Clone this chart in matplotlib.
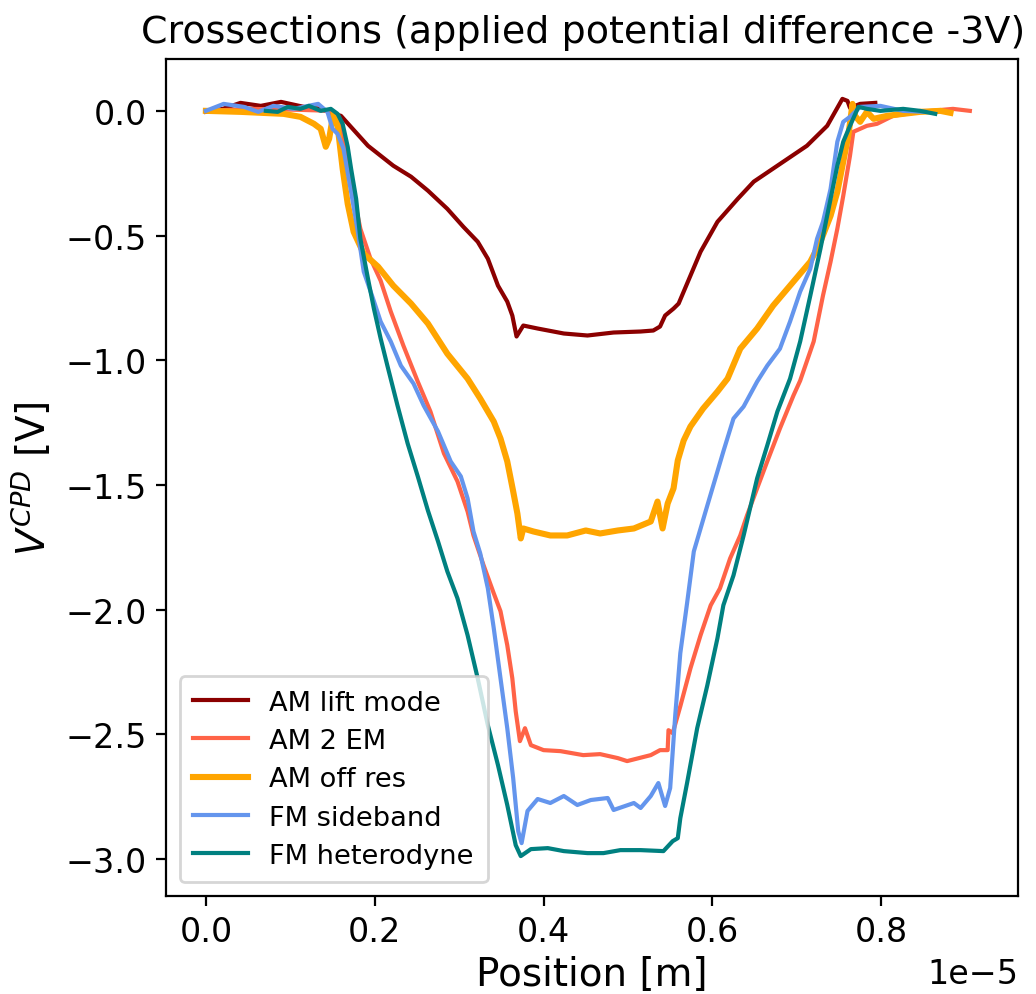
import numpy as np
import matplotlib
matplotlib.use('Agg')
import matplotlib.pyplot as plt

# positions in units of 1e-5 m, potentials in V
x_lift = [0.0, 0.020, 0.041, 0.065, 0.089, 0.116, 0.136, 0.151, 0.160, 0.192, 0.222, 0.243,
          0.263, 0.286, 0.305, 0.322, 0.334, 0.346, 0.357, 0.363, 0.368, 0.376, 0.393, 0.424,
          0.452, 0.483, 0.515, 0.530, 0.538, 0.544, 0.554, 0.560, 0.574, 0.586, 0.606, 0.630,
          0.649, 0.677, 0.712, 0.736, 0.754, 0.760, 0.763, 0.775, 0.793]
v_lift = [-0.004, 0.008, 0.032, 0.020, 0.036, 0.016, 0.008, -0.012, -0.020, -0.140, -0.220, -0.264,
          -0.320, -0.393, -0.465, -0.525, -0.593, -0.701, -0.765, -0.821, -0.905, -0.861, -0.873, -0.893,
          -0.901, -0.889, -0.885, -0.881, -0.865, -0.821, -0.793, -0.773, -0.661, -0.565, -0.445, -0.353,
          -0.284, -0.220, -0.140, -0.060, 0.048, 0.040, 0.012, 0.028, 0.032]

x_2em = [0.0, 0.053, 0.112, 0.148, 0.160, 0.175, 0.183, 0.195, 0.207, 0.219, 0.234, 0.251,
         0.266, 0.282, 0.298, 0.310, 0.317, 0.329, 0.341, 0.349, 0.357, 0.363, 0.367, 0.372,
         0.378, 0.385, 0.400, 0.420, 0.447, 0.467, 0.488, 0.499, 0.527, 0.538, 0.547, 0.548,
         0.553, 0.562, 0.574, 0.586, 0.598, 0.609, 0.621, 0.633, 0.641, 0.653, 0.665, 0.680,
         0.696, 0.704, 0.720, 0.731, 0.740, 0.748, 0.755, 0.763, 0.767, 0.775, 0.783, 0.795,
         0.814, 0.846, 0.885, 0.905]
v_2em = [0.0, 0.008, 0.004, 0.0, -0.052, -0.341, -0.473, -0.593, -0.681, -0.805, -0.942, -1.086,
         -1.206, -1.374, -1.486, -1.607, -1.703, -1.823, -1.935, -2.007, -2.143, -2.276, -2.408, -2.528,
         -2.476, -2.544, -2.564, -2.568, -2.584, -2.580, -2.596, -2.608, -2.584, -2.564, -2.564, -2.484,
         -2.496, -2.388, -2.236, -2.103, -1.983, -1.915, -1.795, -1.703, -1.623, -1.514, -1.406, -1.274,
         -1.142, -1.082, -0.925, -0.741, -0.605, -0.473, -0.341, -0.180, -0.084, -0.072, -0.060, -0.052,
         -0.020, -0.004, 0.008, 0.0]

x_off = [0.0, 0.041, 0.092, 0.112, 0.128, 0.136, 0.142, 0.146, 0.151, 0.156, 0.162, 0.168,
         0.175, 0.187, 0.204, 0.222, 0.243, 0.263, 0.286, 0.310, 0.325, 0.341, 0.349, 0.357,
         0.364, 0.369, 0.373, 0.376, 0.388, 0.408, 0.428, 0.450, 0.467, 0.488, 0.507, 0.527,
         0.535, 0.541, 0.547, 0.554, 0.559, 0.566, 0.574, 0.589, 0.606, 0.618, 0.633, 0.653,
         0.672, 0.696, 0.716, 0.728, 0.740, 0.748, 0.755, 0.761, 0.766, 0.769, 0.775, 0.783,
         0.791, 0.807, 0.826, 0.846, 0.870, 0.882]
v_off = [0.0, -0.004, -0.012, -0.024, -0.052, -0.072, -0.144, -0.112, -0.012, -0.060, -0.232, -0.373,
         -0.485, -0.573, -0.625, -0.701, -0.773, -0.853, -0.974, -1.074, -1.154, -1.246, -1.314, -1.406,
         -1.526, -1.615, -1.715, -1.675, -1.687, -1.703, -1.703, -1.683, -1.695, -1.683, -1.675, -1.647,
         -1.567, -1.675, -1.575, -1.514, -1.402, -1.322, -1.266, -1.194, -1.126, -1.074, -0.954, -0.873,
         -0.781, -0.685, -0.605, -0.525, -0.421, -0.325, -0.204, -0.100, 0.028, -0.020, -0.044, -0.004,
         -0.032, -0.020, -0.012, -0.004, 0.0, -0.008]

x_side = [0.0, 0.021, 0.045, 0.062, 0.080, 0.104, 0.133, 0.144, 0.150, 0.156, 0.163, 0.172,
          0.180, 0.187, 0.198, 0.207, 0.219, 0.231, 0.246, 0.258, 0.275, 0.290, 0.302, 0.310,
          0.317, 0.325, 0.334, 0.341, 0.349, 0.357, 0.364, 0.370, 0.374, 0.381, 0.393, 0.408,
          0.424, 0.440, 0.456, 0.476, 0.483, 0.507, 0.515, 0.527, 0.536, 0.544, 0.550, 0.556,
          0.562, 0.570, 0.578, 0.586, 0.594, 0.606, 0.613, 0.625, 0.637, 0.653, 0.665, 0.680,
          0.692, 0.704, 0.716, 0.724, 0.731, 0.740, 0.748, 0.755, 0.763, 0.775, 0.799, 0.826,
          0.852]
v_side = [0.0, 0.028, 0.016, -0.004, 0.020, 0.008, 0.028, -0.004, -0.072, -0.092, -0.152, -0.325,
          -0.485, -0.645, -0.753, -0.845, -0.925, -1.022, -1.094, -1.182, -1.286, -1.406, -1.466, -1.554,
          -1.687, -1.775, -1.915, -2.075, -2.276, -2.476, -2.676, -2.889, -2.937, -2.808, -2.760, -2.776,
          -2.748, -2.784, -2.764, -2.756, -2.804, -2.776, -2.796, -2.748, -2.696, -2.788, -2.716, -2.424,
          -2.175, -1.975, -1.767, -1.675, -1.583, -1.446, -1.366, -1.234, -1.186, -1.086, -1.022, -0.954,
          -0.845, -0.725, -0.633, -0.513, -0.445, -0.313, -0.124, -0.044, -0.024, 0.016, 0.020, 0.0,
          -0.004]

x_het = [0.071, 0.085, 0.097, 0.112, 0.122, 0.136, 0.148, 0.156, 0.162, 0.168, 0.172, 0.178,
         0.183, 0.192, 0.199, 0.207, 0.215, 0.227, 0.239, 0.251, 0.263, 0.275, 0.286, 0.298,
         0.310, 0.322, 0.334, 0.346, 0.357, 0.367, 0.373, 0.385, 0.405, 0.424, 0.452, 0.471,
         0.491, 0.515, 0.542, 0.553, 0.559, 0.562, 0.570, 0.582, 0.594, 0.606, 0.613, 0.625,
         0.637, 0.653, 0.665, 0.677, 0.692, 0.704, 0.716, 0.728, 0.740, 0.748, 0.755, 0.763,
         0.773, 0.783, 0.799, 0.826, 0.846, 0.864]
v_het = [0.0, -0.004, 0.016, 0.008, 0.020, 0.0, 0.008, -0.012, -0.052, -0.144, -0.232, -0.353,
         -0.513, -0.673, -0.793, -0.913, -1.022, -1.182, -1.334, -1.466, -1.603, -1.727, -1.847, -1.955,
         -2.103, -2.276, -2.464, -2.624, -2.784, -2.945, -2.989, -2.961, -2.957, -2.969, -2.977, -2.977,
         -2.965, -2.965, -2.969, -2.929, -2.917, -2.837, -2.696, -2.476, -2.304, -2.115, -1.983, -1.863,
         -1.703, -1.474, -1.342, -1.206, -1.074, -0.925, -0.741, -0.553, -0.353, -0.220, -0.124, -0.060,
         0.016, 0.008, 0.0, 0.008, 0.0, -0.012]

x_ticks = [0.0, 0.2, 0.4, 0.6, 0.8]

series = [
    (x_lift, v_lift, 'AM lift mode', 'darkred', 1.5),
    (x_2em, v_2em, 'AM 2 EM', 'tomato', 1.5),
    (x_off, v_off, 'AM off res', 'orange', 2.2),
    (x_side, v_side, 'FM sideband', 'cornflowerblue', 1.5),
    (x_het, v_het, 'FM heterodyne', 'teal', 1.5),
]

fig = plt.figure(figsize=(5.18, 4.975), dpi=200)
ax = fig.add_axes([0.1602, 0.0985, 0.8224, 0.8412])

for xs, vs, label, color, lw in series:
    ax.plot(np.array(xs) * 1e-5, vs, color=color, lw=lw, label=label)

ax.set_xlim(-0.0473e-5, 0.962e-5)
ax.set_ylim(-3.149, 0.208)
ax.set_xticks(np.array(x_ticks) * 1e-5)
ax.ticklabel_format(axis='x', style='sci', scilimits=(-5, -5))
ax.tick_params(labelsize=12)
ax.xaxis.get_offset_text().set_fontsize(12)
ax.set_xlabel('Position [m]', fontsize=14, labelpad=2.5)
ax.set_ylabel('$V^{CPD}$ [V]', fontsize=14)
ax.set_title('Crossections (applied potential difference -3V)', fontsize=13.7, x=0.49)
ax.legend(loc='lower left', fontsize=9.8, labelspacing=0.45, borderpad=0.5)

fig.savefig('out.png', dpi=200)
